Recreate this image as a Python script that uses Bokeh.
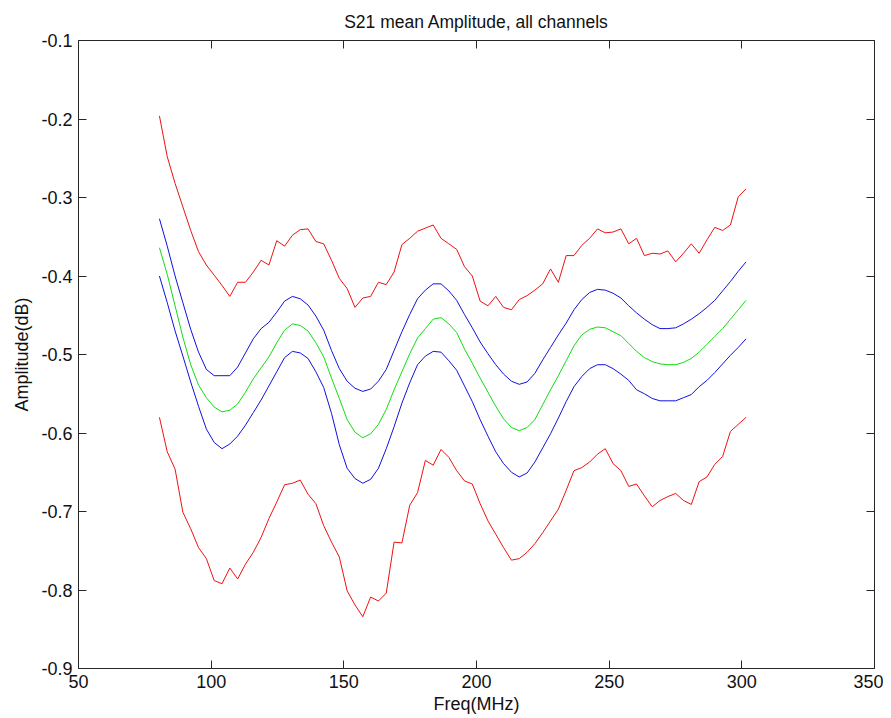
import numpy as np
from bokeh.plotting import figure
from bokeh.models import LinearAxis, FixedTicker, Range1d, PrintfTickFormatter, CustomJSTickFormatter
from bokeh.embed import file_html
from bokeh.resources import INLINE

# frequency grid (MHz), 76 samples
freq = np.round(np.linspace(80.5, 301.6, 76), 2)

red_upper = [-0.196, -0.248, -0.282, -0.312, -0.342, -0.369, -0.386, -0.399, -0.412, -0.426,
             -0.408, -0.408, -0.395, -0.380, -0.386, -0.355, -0.362, -0.348, -0.341, -0.340,
             -0.356, -0.359, -0.380, -0.403, -0.416, -0.440, -0.428, -0.426, -0.408, -0.411,
             -0.395, -0.360, -0.352, -0.343, -0.339, -0.335, -0.352, -0.359, -0.366, -0.388,
             -0.400, -0.432, -0.438, -0.426, -0.440, -0.443, -0.430, -0.425, -0.418, -0.410,
             -0.391, -0.408, -0.374, -0.374, -0.361, -0.352, -0.340, -0.345, -0.344, -0.340,
             -0.359, -0.352, -0.374, -0.371, -0.372, -0.368, -0.382, -0.371, -0.359, -0.371,
             -0.354, -0.338, -0.342, -0.335, -0.299, -0.289]

blue_upper = [-0.327, -0.362, -0.400, -0.434, -0.468, -0.497, -0.519, -0.527, -0.527, -0.527,
              -0.516, -0.498, -0.480, -0.467, -0.459, -0.446, -0.432, -0.426, -0.429, -0.437,
              -0.451, -0.469, -0.495, -0.518, -0.534, -0.543, -0.547, -0.544, -0.534, -0.519,
              -0.495, -0.471, -0.449, -0.429, -0.418, -0.410, -0.410, -0.419, -0.431, -0.449,
              -0.466, -0.484, -0.499, -0.513, -0.525, -0.534, -0.538, -0.535, -0.524, -0.507,
              -0.491, -0.475, -0.460, -0.443, -0.430, -0.421, -0.417, -0.418, -0.422, -0.428,
              -0.438, -0.447, -0.455, -0.462, -0.467, -0.467, -0.466, -0.461, -0.455, -0.448,
              -0.440, -0.431, -0.419, -0.407, -0.394, -0.382]

green_mean = [-0.364, -0.398, -0.438, -0.478, -0.513, -0.539, -0.555, -0.567, -0.573, -0.571,
              -0.563, -0.548, -0.531, -0.517, -0.503, -0.485, -0.469, -0.461, -0.463, -0.470,
              -0.485, -0.503, -0.530, -0.556, -0.583, -0.599, -0.606, -0.601, -0.589, -0.570,
              -0.545, -0.522, -0.499, -0.479, -0.467, -0.455, -0.453, -0.461, -0.472, -0.493,
              -0.511, -0.530, -0.548, -0.566, -0.582, -0.593, -0.597, -0.593, -0.583, -0.564,
              -0.545, -0.527, -0.508, -0.489, -0.475, -0.468, -0.465, -0.466, -0.471, -0.476,
              -0.486, -0.496, -0.504, -0.509, -0.512, -0.513, -0.513, -0.510, -0.505, -0.497,
              -0.487, -0.477, -0.467, -0.455, -0.443, -0.431]

blue_lower = [-0.400, -0.434, -0.470, -0.502, -0.535, -0.566, -0.595, -0.612, -0.620, -0.614,
              -0.604, -0.590, -0.574, -0.558, -0.540, -0.522, -0.504, -0.496, -0.498, -0.505,
              -0.522, -0.542, -0.575, -0.615, -0.645, -0.658, -0.664, -0.659, -0.645, -0.620,
              -0.592, -0.562, -0.536, -0.513, -0.502, -0.496, -0.497, -0.508, -0.520, -0.540,
              -0.560, -0.583, -0.604, -0.624, -0.639, -0.650, -0.656, -0.651, -0.637, -0.619,
              -0.601, -0.581, -0.560, -0.541, -0.528, -0.518, -0.513, -0.513, -0.518, -0.525,
              -0.533, -0.545, -0.550, -0.556, -0.559, -0.559, -0.559, -0.555, -0.551, -0.541,
              -0.533, -0.523, -0.512, -0.501, -0.491, -0.480]

red_lower = [-0.580, -0.624, -0.646, -0.701, -0.722, -0.746, -0.760, -0.788, -0.792, -0.772,
             -0.786, -0.767, -0.752, -0.733, -0.709, -0.688, -0.666, -0.664, -0.660, -0.678,
             -0.690, -0.718, -0.739, -0.758, -0.801, -0.819, -0.834, -0.809, -0.814, -0.804,
             -0.739, -0.740, -0.692, -0.676, -0.635, -0.641, -0.621, -0.631, -0.648, -0.661,
             -0.665, -0.690, -0.712, -0.729, -0.746, -0.762, -0.760, -0.752, -0.741, -0.727,
             -0.712, -0.697, -0.673, -0.648, -0.644, -0.637, -0.627, -0.620, -0.639, -0.648,
             -0.668, -0.665, -0.680, -0.694, -0.686, -0.681, -0.677, -0.686, -0.691, -0.662,
             -0.656, -0.640, -0.630, -0.598, -0.589, -0.580]

x_ticks = [50, 100, 150, 200, 250, 300, 350]
y_ticks = [-0.9, -0.8, -0.7, -0.6, -0.5, -0.4, -0.3, -0.2, -0.1]

title_text = "S21 mean Amplitude, all channels"
x_label = "Freq(MHz)"
y_label = "Amplitude(dB)"

FONT = "Liberation Sans"
FS = "18px"
AX_COLOR = "#262626"
TXT = "#111111"

p = figure(width=883, height=718, x_range=Range1d(50, 350), y_range=Range1d(-0.9, -0.1),
           output_backend="svg", toolbar_location=None, title=title_text,
           x_axis_type=None, y_axis_type=None,
           min_border_left=78, min_border_right=9, min_border_top=40, min_border_bottom=50)
p.outline_line_color = None
p.background_fill_color = "white"
p.border_fill_color = "white"
p.title.align = "center"
p.title.text_font = FONT
p.title.text_font_size = "17.5px"
p.title.text_font_style = "normal"
p.title.text_color = TXT
p.title.standoff = 17


def make_axis(ticks, fmt, labels, label_text=None):
    if labels:
        formatter = PrintfTickFormatter(format=fmt)
    else:
        formatter = CustomJSTickFormatter(code="return ''")
    ax = LinearAxis(ticker=FixedTicker(ticks=ticks), formatter=formatter)
    ax.major_tick_in = 8
    ax.major_tick_out = 0
    ax.minor_tick_in = 0
    ax.minor_tick_out = 0
    ax.axis_line_color = AX_COLOR
    ax.major_tick_line_color = AX_COLOR
    ax.axis_line_width = 1
    if labels:
        ax.major_label_text_font = FONT
        ax.major_label_text_font_size = FS
        ax.major_label_text_color = TXT
        ax.major_label_standoff = 6
        ax.axis_label = label_text
        ax.axis_label_text_font = FONT
        ax.axis_label_text_font_size = FS
        ax.axis_label_text_font_style = "normal"
        ax.axis_label_text_color = TXT
    else:
        ax.major_label_text_font_size = "1px"
        ax.major_label_standoff = 0
    return ax


xb = make_axis(x_ticks, "%d", True, x_label)
xb.axis_label_standoff = 3
yl = make_axis(y_ticks, "%.1f", True, y_label)
yl.axis_label_standoff = 6
p.add_layout(xb, "below")
p.add_layout(yl, "left")
p.add_layout(make_axis(x_ticks, "%d", False), "above")
p.add_layout(make_axis(y_ticks, "%.1f", False), "right")

p.line(freq, red_upper, line_color="#ee1111", line_width=1)
p.line(freq, blue_upper, line_color="#1111dd", line_width=1)
p.line(freq, green_mean, line_color="#11dd11", line_width=1)
p.line(freq, blue_lower, line_color="#1111dd", line_width=1)
p.line(freq, red_lower, line_color="#ee1111", line_width=1)

open("out.html", "w").write(file_html(p, INLINE))
